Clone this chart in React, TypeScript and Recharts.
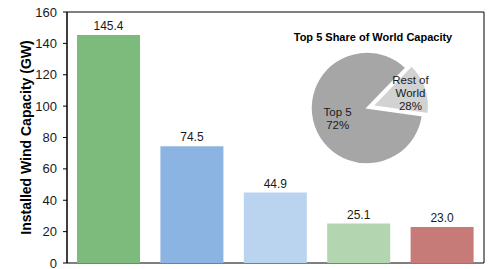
import { BarChart, Bar, XAxis, YAxis, Cell, LabelList, ReferenceArea, PieChart, Pie, Sector } from 'recharts'

const countries = ['China', 'United States', 'Germany', 'India', 'Spain']
const capacity = [145.4, 74.5, 44.9, 25.1, 23.0]
const barColors = ['#7DBB7D', '#8CB4E2', '#BAD3EE', '#B3D6B0', '#C77B78']
const yTicks = [0, 20, 40, 60, 80, 100, 120, 140, 160]
const edgeTicks = [1, 2, 3, 4]

// slice sizes as drawn (angles), labels as printed
const shareNames = ['Top 5', 'Rest of World']
const shareAngles = [85, 15]
const shareLabels = [['Top 5', '72%'], ['Rest of', 'World', '28%']]
const shareColors = ['#A6A6A6', '#D2D2D2']

const barData = countries.map((c, i) => ({ country: c, value: capacity[i] }))
const pieData = shareNames.map((n, i) => ({ name: n, value: shareAngles[i] }))

const RAD = Math.PI / 180
const EXPLODE = 6

function YTitle({ viewBox }: any) {
  const y = viewBox ? viewBox.y + viewBox.height / 2 : 138
  return (
    <text x={26} y={y} transform={`rotate(-90 26 ${y})`} textAnchor="middle" dominantBaseline="central"
      fontSize={14} fontWeight="bold" fill="#000">
      Installed Wind Capacity (GW)
    </text>
  )
}

function Slice(props: any) {
  const name = props.name ?? props.payload?.name
  const out = name === 'Rest of World' ? EXPLODE : 0
  const dx = out * Math.cos(-props.midAngle * RAD)
  const dy = out * Math.sin(-props.midAngle * RAD)
  return <Sector {...props} cx={props.cx + dx} cy={props.cy + dy} />
}

function pieLabel(props: any) {
  const { cx, cy, midAngle, index } = props
  const lines = shareLabels[index]
  const r = index === 0 ? 31 : 46
  const x = cx + r * Math.cos(-midAngle * RAD)
  const y = cy + r * Math.sin(-midAngle * RAD)
  const lh = 13
  const y0 = y - ((lines.length - 1) * lh) / 2
  return (
    <text x={x} textAnchor="middle" fontSize={11.5} fill="#1a1a1a">
      {lines.map((l, i) => (
        <tspan key={i} x={x} y={y0 + i * lh} dominantBaseline="central">{l}</tspan>
      ))}
    </text>
  )
}

export default function App() {
  return (
    <div style={{ position: 'absolute', left: 0, top: 0, width: 490, height: 269, fontFamily: '"Liberation Sans", Arial, sans-serif', background: '#fff' }}>
      <BarChart width={490} height={269} data={barData} margin={{ top: 12, right: 6, bottom: 6, left: 0 }} barCategoryGap="12%">
        <XAxis dataKey="country" hide />
        <XAxis xAxisId="edge" type="number" domain={[0, 5]} ticks={edgeTicks} tickSize={4} mirror height={0}
          tickFormatter={() => ''} axisLine={{ stroke: '#000' }} tickLine={{ stroke: '#000' }} />
        <YAxis domain={[0, 160]} ticks={yTicks} interval={0} width={67} tickSize={4} tickMargin={6}
          tick={{ fontSize: 13, fill: '#1a1a1a' }} axisLine={{ stroke: '#000' }} tickLine={{ stroke: '#000' }}
          label={<YTitle />} />
        <ReferenceArea y1={0} y2={160} fill="#fff" fillOpacity={0} stroke="#000" strokeWidth={1} ifOverflow="visible" />
        <Bar dataKey="value" isAnimationActive={false}>
          {barData.map((_, i) => <Cell key={i} fill={barColors[i]} />)}
          <LabelList dataKey="value" position="top" offset={5} fontSize={12} fill="#1a1a1a"
            formatter={(v: any) => Number(v).toFixed(1)} />
        </Bar>
      </BarChart>
      <div style={{ position: 'absolute', left: 280, top: 25 }}>
        <PieChart width={190} height={150} margin={{ top: 0, right: 0, bottom: 0, left: 0 }}>
          <text x={93} y={12} textAnchor="middle" dominantBaseline="central" fontSize={11} fontWeight="bold" fill="#000">
            Top 5 Share of World Capacity
          </text>
          <Pie data={pieData} dataKey="value" nameKey="name" cx={87} cy={83} outerRadius={56}
            startAngle={46} endAngle={406} stroke="#fff" strokeWidth={1.5}
            shape={Slice} label={pieLabel} labelLine={false} isAnimationActive={false}>
            {pieData.map((_, i) => <Cell key={i} fill={shareColors[i]} />)}
          </Pie>
        </PieChart>
      </div>
    </div>
  )
}
